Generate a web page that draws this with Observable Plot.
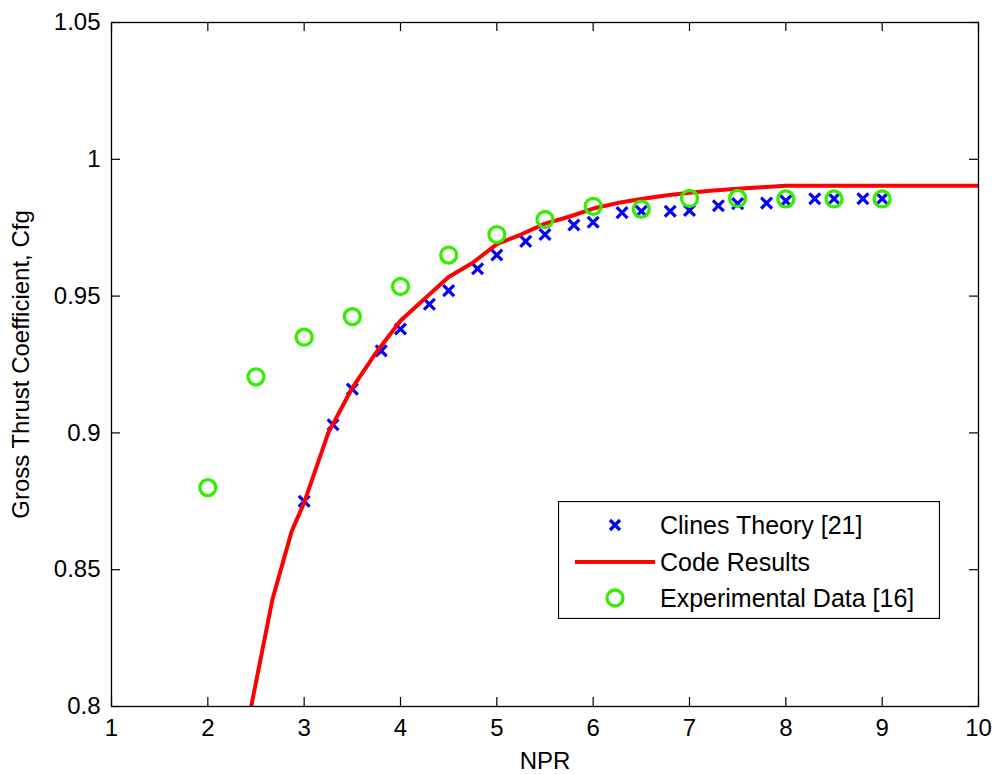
<!DOCTYPE html>
<html>
<head>
<meta charset="utf-8">
<script src="https://cdn.jsdelivr.net/npm/d3@7"></script>
<script src="https://cdn.jsdelivr.net/npm/@observablehq/plot@0.6"></script>
<style>
  html, body { margin: 0; padding: 0; background: white; }
  #wrap { position: relative; width: 997px; height: 774px; }
  #legend { position: absolute; left: 558px; top: 501px; }
</style>
</head>
<body>
<div id="wrap"></div>
<script>
// ---- data ----
const xTicks = [1, 2, 3, 4, 5, 6, 7, 8, 9, 10];
const yTicks = [0.8, 0.85, 0.9, 0.95, 1.0, 1.05];

const clinesNPR = [3, 3.3, 3.5, 3.8, 4, 4.3, 4.5, 4.8, 5, 5.3, 5.5, 5.8, 6, 6.3, 6.5, 6.8, 7, 7.3, 7.5, 7.8, 8, 8.3, 8.5, 8.8, 9];
const clinesCfg = [0.875, 0.903, 0.916, 0.930, 0.938, 0.947, 0.952, 0.960, 0.965, 0.970, 0.9725, 0.976, 0.977, 0.9805, 0.981, 0.981, 0.9813, 0.983, 0.9838, 0.984, 0.9848, 0.9856, 0.9856, 0.9856, 0.9856];

const codeNPR = [2.45, 2.67, 2.87, 3.0, 3.25, 3.5, 3.75, 4.0, 4.25, 4.5, 4.75, 5.0, 5.25, 5.5, 5.75, 6.0, 6.25, 6.5, 6.75, 7.0, 7.25, 7.5, 7.75, 8.0, 8.25, 10];
const codeCfg = [0.800, 0.839, 0.864, 0.8745, 0.900, 0.9165, 0.9295, 0.941, 0.949, 0.957, 0.9622, 0.969, 0.9725, 0.9765, 0.979, 0.982, 0.984, 0.9855, 0.9868, 0.9878, 0.9886, 0.9892, 0.9898, 0.9903, 0.9903, 0.9903];

const expNPR = [2, 2.5, 3, 3.5, 4, 4.5, 5, 5.5, 6, 6.5, 7, 7.5, 8, 8.5, 9];
const expCfg = [0.880, 0.9205, 0.935, 0.9425, 0.9535, 0.965, 0.9725, 0.978, 0.9828, 0.9818, 0.9857, 0.9857, 0.9855, 0.9855, 0.9855];

const seriesNames = ["Clines Theory [21]", "Code Results", "Experimental Data [16]"];
const colors = {blue: "#0000ff", red: "#ff0000", green: "#33ee00"};

// ---- tables ----
const clines = clinesNPR.map((x, i) => ({x, y: clinesCfg[i]}));
const code = codeNPR.map((x, i) => ({x, y: codeCfg[i]}));
const exp = expNPR.map((x, i) => ({x, y: expCfg[i]}));

const fmtY = d => String(+d.toFixed(2));

const W = 997, H = 774, mL = 111, mR = 19, mT = 22, mB = 68;
const tickLen = 9;
const innerW = W - mL - mR, innerH = H - mT - mB;

const chart = Plot.plot({
  width: W,
  height: H,
  marginLeft: mL,
  marginRight: mR,
  marginTop: mT,
  marginBottom: mB,
  style: {fontFamily: "'Liberation Sans', Arial, sans-serif", fontSize: "24px", background: "white", color: "black"},
  x: {domain: [1, 10], ticks: xTicks},
  y: {domain: [0.8, 1.05], ticks: yTicks},
  marks: [
    // inward ticks on all four sides
    Plot.tickX(xTicks, {x: d => d, insetTop: innerH - tickLen, stroke: "black", strokeWidth: 1.2}),
    Plot.tickX(xTicks, {x: d => d, insetBottom: innerH - tickLen, stroke: "black", strokeWidth: 1.2}),
    Plot.tickY(yTicks, {y: d => d, insetRight: innerW - tickLen, stroke: "black", strokeWidth: 1.2}),
    Plot.tickY(yTicks, {y: d => d, insetLeft: innerW - tickLen, stroke: "black", strokeWidth: 1.2}),
    // tick labels + axis labels
    Plot.axisX(xTicks, {anchor: "bottom", tickSize: 0, tickPadding: 12, label: "NPR", labelAnchor: "center", labelArrow: "none", labelOffset: 62}),
    Plot.axisY(yTicks, {anchor: "left", tickSize: 0, tickPadding: 11, tickFormat: fmtY, label: "Gross Thrust Coefficient, Cfg", labelAnchor: "center", labelArrow: "none", labelOffset: 100}),
    // data
    Plot.dot(clines, {x: "x", y: "y", symbol: "times", r: 5, stroke: colors.blue, strokeWidth: 3.2}),
    Plot.line(code, {x: "x", y: "y", stroke: colors.red, strokeWidth: 4, clip: true}),
    Plot.dot(exp, {x: "x", y: "y", symbol: "circle", r: 8, stroke: colors.green, strokeWidth: 3.3, fill: "none"}),
    Plot.frame({stroke: "black", strokeWidth: 1.3})
  ]
});

const wrap = document.getElementById("wrap");
wrap.appendChild(chart);

// ---- legend (overlay) ----
const lw = 382, lh = 118;
const leg = d3.create("svg").attr("id", "legend").attr("width", lw).attr("height", lh)
  .style("font-family", "'Liberation Sans', Arial, sans-serif").style("font-size", "25px");
leg.append("rect").attr("x", 0.5).attr("y", 0.5).attr("width", lw - 1).attr("height", lh - 1)
  .attr("fill", "white").attr("stroke", "black").attr("stroke-width", 1.2);
const rowY = [24, 61, 97];
// x marker
leg.append("path").attr("d", "M52,19L62,29M52,29L62,19").attr("stroke", colors.blue).attr("stroke-width", 3.2).attr("fill", "none");
// line
leg.append("line").attr("x1", 17).attr("x2", 97).attr("y1", rowY[1]).attr("y2", rowY[1]).attr("stroke", colors.red).attr("stroke-width", 4);
// circle
leg.append("circle").attr("cx", 57).attr("cy", rowY[2]).attr("r", 8).attr("fill", "none").attr("stroke", colors.green).attr("stroke-width", 3.3);
seriesNames.forEach((s, i) => {
  leg.append("text").attr("x", 102).attr("y", rowY[i]).attr("dy", "0.35em").text(s);
});
wrap.appendChild(leg.node());
</script>
</body>
</html>
